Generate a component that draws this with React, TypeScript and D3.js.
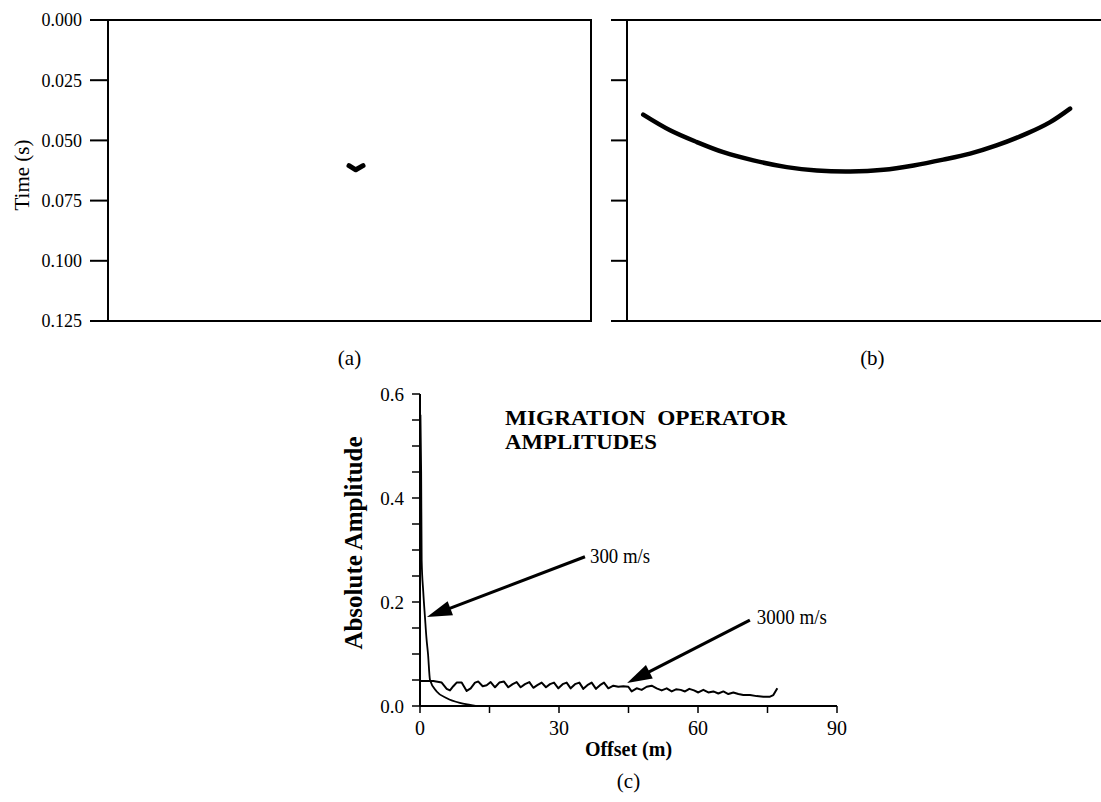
import React from "react";
import { scaleLinear, line, curveCatmullRom, curveMonotoneX } from "d3";

// panel (a) / (b): time axis
const timeTicks = [0, 0.025, 0.05, 0.075, 0.1, 0.125];

// (a) impulse, position across section (0-100) and time (s)
const impulseX = [49.9, 51.3, 52.8];
const impulseT = [0.0605, 0.0622, 0.0605];

// (b) migrated impulse response
const respX = [3.5, 9.3, 15.1, 20.8, 27.3, 34.5, 41, 48.2, 55.4, 61.9, 68.3, 74.1, 79.8, 86.3, 91.4, 95.7];
const respT = [0.0393, 0.0458, 0.0507, 0.0549, 0.0583, 0.0611, 0.0625, 0.0629, 0.0622, 0.0604, 0.058, 0.0555, 0.0521, 0.0472, 0.0424, 0.0368];

// (c) operator amplitudes
const offsetTicks = [0, 30, 60, 90];
const offsetMinor = [0, 15, 30, 45, 60, 75, 90];
const ampTicks = [0, 0.2, 0.4, 0.6];
const ampMinor = [0, 0.05, 0.1, 0.15, 0.2, 0.25, 0.3, 0.35, 0.4, 0.45, 0.5, 0.55, 0.6];

const slowOffset = [0.1, 0.25, 0.36, 0.7, 1.08, 1.4, 1.73, 2.16, 3.6, 5.8, 8.6, 10.8, 12];
const slowAmp = [0.56, 0.45, 0.28, 0.22, 0.17, 0.13, 0.1, 0.05, 0.028, 0.015, 0.006, 0.002, 0];

const fastOffset = [0, 2.88, 4.68, 5.76, 6.47, 7.19, 7.91, 8.99, 10.07, 10.94, 11.87, 12.59, 13.53, 14.39, 15.25, 16.19, 17.12, 18.13, 19.06, 20.0, 20.86, 21.73, 22.66, 23.6, 24.46, 25.32, 26.26, 27.19, 28.06, 28.92, 29.86, 30.79, 31.65, 32.52, 33.45, 34.39, 35.25, 36.12, 37.05, 37.98, 38.85, 39.71, 40.65, 41.73, 42.8, 43.88, 44.96, 45.68, 46.76, 47.84, 48.92, 50.0, 51.08, 52.16, 53.24, 54.32, 55.25, 56.26, 57.2, 58.13, 59.14, 60.07, 61.15, 62.23, 63.31, 64.39, 65.47, 66.55, 67.63, 68.71, 69.79, 71.23, 72.66, 74.1, 75.54, 76.26, 77.12];
const fastAmp = [0.048, 0.048, 0.045, 0.033, 0.03, 0.038, 0.045, 0.045, 0.029, 0.034, 0.045, 0.047, 0.038, 0.04, 0.046, 0.036, 0.045, 0.047, 0.036, 0.042, 0.046, 0.036, 0.042, 0.046, 0.035, 0.04, 0.045, 0.036, 0.042, 0.045, 0.034, 0.042, 0.045, 0.034, 0.042, 0.045, 0.033, 0.04, 0.045, 0.033, 0.04, 0.045, 0.034, 0.039, 0.037, 0.038, 0.037, 0.028, 0.034, 0.031, 0.037, 0.039, 0.034, 0.03, 0.034, 0.028, 0.032, 0.031, 0.028, 0.033, 0.03, 0.026, 0.031, 0.026, 0.028, 0.024, 0.028, 0.023, 0.026, 0.023, 0.021, 0.021, 0.019, 0.018, 0.018, 0.021, 0.034];

const arrows = [
  { text: "300 m/s", from: [35.6, 0.287], to: [1.5, 0.171], at: [36.7, 0.275], len: 60 },
  { text: "3000 m/s", from: [71.2, 0.165], to: [44.7, 0.044], at: [72.7, 0.158], len: 70 },
];

const serif = "'Liberation Serif', 'Times New Roman', serif";

const Arrow = ({ x1, y1, x2, y2 }) => {
  const dx = x2 - x1;
  const dy = y2 - y1;
  const len = Math.sqrt(dx * dx + dy * dy);
  const ux = dx / len;
  const uy = dy / len;
  const hl = 25;
  const hw = 7.5;
  const bx = x2 - ux * hl;
  const by = y2 - uy * hl;
  const pts = `${x2},${y2} ${bx - uy * hw},${by + ux * hw} ${bx + uy * hw},${by - ux * hw}`;
  return (
    <g>
      <line x1={x1} y1={y1} x2={bx + ux * 2} y2={by + uy * 2} stroke="#000" strokeWidth={3.2} />
      <polygon points={pts} fill="#000" />
    </g>
  );
};

const App = () => {
  const tY = scaleLinear().domain([0, 0.125]).range([20, 321]);
  const aX = scaleLinear().domain([0, 100]).range([108, 591]);
  const bX = scaleLinear().domain([0, 100]).range([627, 1090]);

  const oX = scaleLinear().domain([0, 90]).range([420, 837]);
  const aY = scaleLinear().domain([0, 0.6]).range([706, 394]);

  const impulseLine = line()
    .x((d, i) => aX(impulseX[i]))
    .y((d, i) => tY(impulseT[i]));
  const respLine = line()
    .x((d, i) => bX(respX[i]))
    .y((d, i) => tY(respT[i]))
    .curve(curveCatmullRom);
  const slowLine = line()
    .x((d, i) => oX(slowOffset[i]))
    .y((d, i) => aY(slowAmp[i]))
    .curve(curveMonotoneX);
  const fastLine = line()
    .x((d, i) => oX(fastOffset[i]))
    .y((d, i) => aY(fastAmp[i]));

  return (
    <svg
      width={1101}
      height={802}
      style={{ position: "absolute", left: 0, top: 0, background: "#fff" }}
      fontFamily={serif}
    >
      {/* panel (a) */}
      <g>
        {timeTicks.map((t) => (
          <g key={t}>
            <line x1={90} x2={108} y1={tY(t)} y2={tY(t)} stroke="#000" strokeWidth={2} />
            <text x={82} y={tY(t)} dy="0.35em" textAnchor="end" fontSize={18}>
              {t.toFixed(3)}
            </text>
          </g>
        ))}
        <rect x={108} y={20} width={483} height={301} fill="none" stroke="#000" strokeWidth={2} />
        <text transform={`translate(29, 175) rotate(-90)`} textAnchor="middle" fontSize={21}>
          Time (s)
        </text>
        <path
          d={impulseLine(impulseX)}
          fill="none"
          stroke="#000"
          strokeWidth={5}
          strokeLinecap="round"
          strokeLinejoin="round"
        />
        <text x={aX(50)} y={365} textAnchor="middle" fontSize={21}>
          (a)
        </text>
      </g>

      {/* panel (b) */}
      <g>
        {timeTicks.map((t) => (
          <line key={t} x1={611} x2={627} y1={tY(t)} y2={tY(t)} stroke="#000" strokeWidth={2} />
        ))}
        <line x1={627} x2={627} y1={20} y2={321} stroke="#000" strokeWidth={2} />
        <line x1={611} x2={1101} y1={20} y2={20} stroke="#000" strokeWidth={2} />
        <line x1={611} x2={1101} y1={321} y2={321} stroke="#000" strokeWidth={2} />
        <path d={respLine(respX)} fill="none" stroke="#000" strokeWidth={4.5} strokeLinecap="round" />
        <text x={bX(53)} y={365} textAnchor="middle" fontSize={21}>
          (b)
        </text>
      </g>

      {/* panel (c) */}
      <g>
        {ampMinor.map((v) => (
          <line key={v} x1={412} x2={420} y1={aY(v)} y2={aY(v)} stroke="#000" strokeWidth={1.5} />
        ))}
        {ampTicks.map((v) => (
          <text key={v} x={404} y={aY(v)} dy="0.35em" textAnchor="end" fontSize={19}>
            {v.toFixed(1)}
          </text>
        ))}
        {offsetMinor.map((v) => (
          <line key={v} x1={oX(v)} x2={oX(v)} y1={706} y2={713} stroke="#000" strokeWidth={1.5} />
        ))}
        {offsetTicks.map((v) => (
          <text key={v} x={oX(v)} y={735} textAnchor="middle" fontSize={20}>
            {v}
          </text>
        ))}
        <line x1={420} x2={420} y1={394} y2={706} stroke="#000" strokeWidth={2} />
        <line x1={420} x2={837} y1={706} y2={706} stroke="#000" strokeWidth={2} />

        <path d={slowLine(slowOffset)} fill="none" stroke="#000" strokeWidth={1.8} />
        <path d={fastLine(fastOffset)} fill="none" stroke="#000" strokeWidth={2} strokeLinejoin="round" />

        {arrows.map((l) => (
          <g key={l.text}>
            <Arrow x1={oX(l.from[0])} y1={aY(l.from[1])} x2={oX(l.to[0])} y2={aY(l.to[1])} />
            <text x={oX(l.at[0])} y={aY(l.at[1])} fontSize={20} textLength={l.len} lengthAdjust="spacingAndGlyphs">
              {l.text}
            </text>
          </g>
        ))}

        <text
          x={505}
          y={425}
          fontSize={20}
          fontWeight="bold"
          textLength={282}
          lengthAdjust="spacingAndGlyphs"
          style={{ whiteSpace: "pre" }}
        >
          MIGRATION  OPERATOR
        </text>
        <text x={505} y={449} fontSize={20} fontWeight="bold" textLength={152} lengthAdjust="spacingAndGlyphs">
          AMPLITUDES
        </text>

        <text
          transform={`translate(362, 543) rotate(-90)`}
          textAnchor="middle"
          fontSize={25}
          fontWeight="bold"
        >
          Absolute Amplitude
        </text>
        <text x={oX(45)} y={756} textAnchor="middle" fontSize={20} fontWeight="bold">
          Offset (m)
        </text>
        <text x={oX(45)} y={788} textAnchor="middle" fontSize={21}>
          (c)
        </text>
      </g>
    </svg>
  );
};

export default App;
